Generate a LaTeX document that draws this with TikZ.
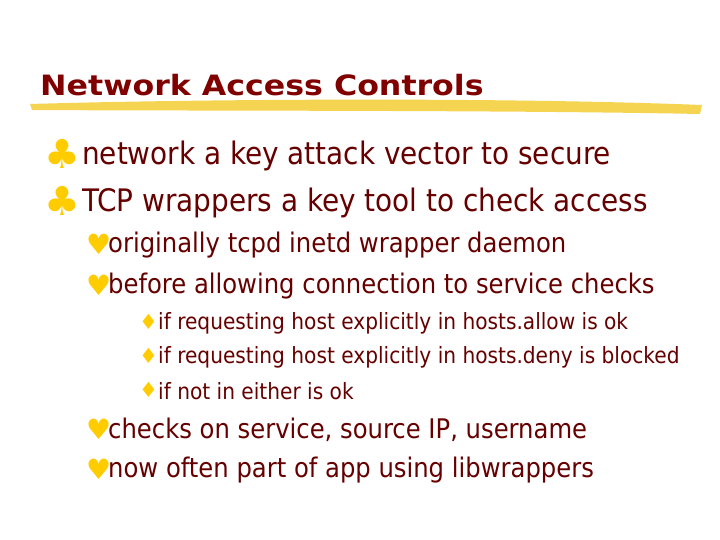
\documentclass[tikz,border=0pt]{standalone}
\usepackage{fontspec}
\setmainfont{DejaVu Sans Condensed}
\newfontfamily\titlefont{DejaVu Sans}
\newfontfamily\symfont{DejaVu Sans}
\definecolor{tred}{HTML}{800000}
\definecolor{bred}{HTML}{660000}
\definecolor{byel}{HTML}{FFCC00}
\definecolor{brush}{HTML}{F5D040}
\begin{document}
\begin{tikzpicture}[x=1pt,y=-1pt,
  lone/.style={anchor=west,text=bred,font=\fontsize{31}{34}\selectfont,inner sep=0},
  ltwo/.style={anchor=west,text=bred,font=\fontsize{27}{30}\selectfont,inner sep=0},
  lthree/.style={anchor=west,text=bred,font=\fontsize{22.4}{25}\selectfont,inner sep=0},
  bul/.style={anchor=west,text=byel,inner sep=0}]
\useasboundingbox[fill=white] (0,0) rectangle (720,540);
\fill[brush,opacity=0.9] (30,104) .. controls (200,99) and (500,97) .. (702,105) -- (700,114) .. controls (500,110) and (200,111) .. (32,110) -- cycle;
\node[anchor=west,text=tred,font=\titlefont\bfseries\fontsize{28}{30}\selectfont,inner sep=0,xscale=1.13] (title) at (40,85) {Network Access Controls};
\node[bul,font=\symfont\fontsize{40}{40}\selectfont] (b1) at (44,154) {♣};
\node[lone] (t1) at (82,156) {network a key attack vector to secure};
\node[bul,font=\symfont\fontsize{40}{40}\selectfont] (b2) at (44,201) {♣};
\node[lone] (t2) at (82,203) {TCP wrappers a key tool to check access};
\node[bul,font=\symfont\fontsize{28}{28}\selectfont] (b3) at (86,244) {♥};
\node[ltwo] (t3) at (108,245) {originally tcpd inetd wrapper daemon};
\node[bul,font=\symfont\fontsize{28}{28}\selectfont] (b4) at (86,285) {♥};
\node[ltwo] (t4) at (108,286) {before allowing connection to service checks};
\node[bul,font=\symfont\fontsize{21}{21}\selectfont] (b5) at (139,322) {♦};
\node[lthree] (t5) at (158,323) {if requesting host explicitly in hosts.allow is ok};
\node[bul,font=\symfont\fontsize{21}{21}\selectfont] (b6) at (139,356) {♦};
\node[lthree] (t6) at (158,357) {if requesting host explicitly in hosts.deny is blocked};
\node[bul,font=\symfont\fontsize{21}{21}\selectfont] (b7) at (139,390) {♦};
\node[lthree] (t7) at (158,391) {if not in either is ok};
\node[bul,font=\symfont\fontsize{28}{28}\selectfont] (b8) at (86,429) {♥};
\node[ltwo] (t8) at (108,430) {checks on service, source IP, username};
\node[bul,font=\symfont\fontsize{28}{28}\selectfont] (b9) at (86,469) {♥};
\node[ltwo] (t9) at (108,470) {now often part of app using libwrappers};
\end{tikzpicture}
\end{document}
